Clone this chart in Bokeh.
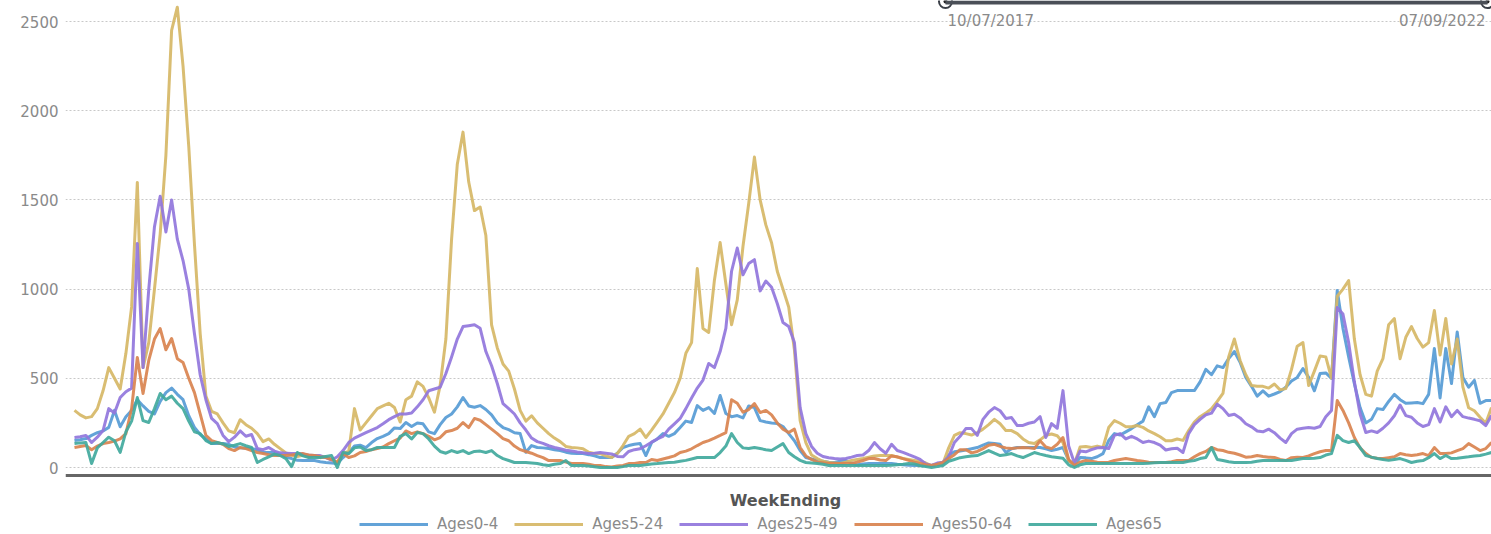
import pandas as pd
from bokeh.plotting import figure
from bokeh.models import Range1d, FixedTicker, Legend, LegendItem, Label, BoxAnnotation, Span
from bokeh.embed import file_html
from bokeh.resources import INLINE

# ---------------- data (weekly) ----------------
first_week = "2017-10-07"
last_week = "2022-07-09"
range_labels = ["10/07/2017", "07/09/2022"]
x_title = "WeekEnding"
series_names = ["Ages0-4", "Ages5-24", "Ages25-49", "Ages50-64", "Ages65"]

ages0_4 = [
    151, 156, 162, 180, 195, 205, 225, 320, 228, 285,
    320, 380, 345, 315, 300, 370, 420, 445, 410, 380,
    290, 225, 185, 160, 134, 134, 134, 130, 115, 110,
    108, 106, 100, 84, 84, 84, 75, 58, 50, 40,
    39, 39, 39, 32, 28, 25, 22, 56, 84, 120,
    125, 112, 140, 162, 175, 190, 222, 218, 252, 230,
    250, 245, 200, 190, 240, 280, 300, 340, 392, 345,
    338, 347, 325, 295, 250, 224, 212, 195, 190, 85,
    123, 112, 110, 106, 100, 95, 86, 80, 78, 78,
    72, 65, 56, 56, 56, 80, 112, 123, 130, 134,
    67, 140, 160, 190, 175, 190, 224, 260, 252, 347,
    320, 336, 303, 404, 303, 285, 291, 278, 345, 336,
    263, 255, 250, 246, 230, 190, 150, 95, 56, 48,
    40, 35, 30, 28, 35, 39, 25, 15, 20, 22,
    22, 22, 22, 22, 18, 15, 12, 11, 11, 11,
    11, 15, 20, 70, 88, 93, 98, 105, 112, 125,
    138, 134, 130, 84, 105, 112, 112, 112, 112, 112,
    105, 95, 102, 112, 40, 15, 56, 54, 50, 60,
    78, 151, 190, 182, 200, 218, 240, 260, 340, 285,
    358, 364, 420, 431, 431, 431, 431, 480, 550, 520,
    570, 560, 610, 650, 590, 505, 455, 400, 430, 400,
    412, 425, 450, 485, 505, 555, 505, 430, 527, 530,
    500, 992, 780, 620, 470, 336, 250, 270, 330, 325,
    370, 410, 380, 360, 362, 364, 358, 410, 667, 390,
    667, 471, 760, 505, 450, 488, 360, 375, 375,
]

ages5_24 = [
    320, 295, 278, 285, 330, 430, 560, 500, 440, 640,
    900, 1598, 560, 700, 1000, 1310, 1750, 2450, 2580, 2250,
    1800, 1250, 750, 400, 315, 300, 250, 205, 195, 268,
    240, 220, 190, 145, 160, 130, 106, 82, 70, 62,
    68, 58, 65, 55, 60, 45, 30, 80, 90, 330,
    210, 250, 290, 330, 345, 360, 336, 255, 380, 400,
    480, 455, 390, 310, 460, 720, 1280, 1700, 1880, 1600,
    1440, 1460, 1300, 800, 670, 580, 540, 440, 320, 260,
    290, 250, 220, 190, 165, 145, 118, 112, 110, 105,
    85, 78, 78, 65, 56, 78, 123, 175, 190, 215,
    168, 210, 255, 300, 360, 420, 500, 640, 700, 1115,
    779, 757, 1050, 1261, 1030, 800, 940, 1240, 1480, 1740,
    1500, 1360, 1260, 1100, 1000, 900, 660, 263, 140, 70,
    50, 35, 28, 25, 22, 30, 40, 45, 50, 58,
    65, 67, 67, 67, 58, 50, 45, 40, 35, 25,
    11, 18, 22, 110, 180, 195, 190, 182, 195, 215,
    240, 270, 245, 207, 207, 190, 160, 140, 134, 155,
    180, 188, 178, 140, 35, 20, 115, 118, 112, 120,
    112, 224, 263, 248, 228, 228, 235, 225, 205, 190,
    172, 150, 150, 160, 152, 207, 255, 285, 305, 330,
    370, 415, 620, 720, 600, 520, 460, 455, 455, 445,
    468, 435, 443, 550, 680, 700, 460, 540, 625, 620,
    500, 960, 1000, 1048, 720, 520, 410, 400, 540, 610,
    800, 835, 610, 730, 790, 723, 675, 700, 880, 630,
    835, 580, 720, 450, 335, 318, 282, 248, 336,
]

ages25_49 = [
    168, 172, 180, 140, 170, 207, 330, 305, 392, 425,
    445, 1255, 560, 1000, 1350, 1520, 1320, 1500, 1280, 1160,
    1000, 750, 520, 380, 275, 246, 180, 145, 170, 205,
    175, 185, 106, 100, 112, 92, 82, 80, 78, 78,
    76, 68, 67, 67, 55, 42, 60, 95, 140, 165,
    180, 195, 210, 224, 245, 268, 285, 300, 300, 305,
    340, 380, 430, 440, 450, 527, 620, 720, 790, 795,
    800, 780, 650, 570, 471, 358, 330, 300, 250, 210,
    165, 145, 135, 122, 112, 105, 97, 92, 87, 83,
    79, 80, 84, 80, 76, 62, 60, 90, 100, 105,
    122, 142, 160, 175, 215, 245, 275, 330, 390, 445,
    490, 583, 560, 650, 780, 1100, 1230, 1080, 1143, 1165,
    990, 1045, 1010, 919, 813, 790, 700, 336, 190, 118,
    80, 62, 55, 50, 48, 50, 58, 67, 70, 95,
    140, 105, 80, 130, 95, 85, 72, 60, 45, 20,
    12, 25, 30, 60, 140, 175, 218, 218, 180, 270,
    310, 336, 318, 275, 280, 235, 236, 248, 255, 285,
    168, 246, 220, 431, 120, 25, 92, 88, 100, 110,
    112, 106, 180, 190, 160, 175, 160, 140, 148, 140,
    125, 98, 105, 108, 84, 190, 240, 270, 295, 305,
    355, 330, 292, 298, 278, 245, 228, 205, 200, 215,
    195, 165, 140, 190, 215, 220, 224, 220, 230, 285,
    320, 897, 860, 700, 480, 300, 196, 205, 196, 220,
    250, 290, 350, 291, 282, 250, 230, 240, 330, 255,
    340, 285, 320, 285, 277, 270, 262, 235, 291,
]

ages50_64 = [
    112, 118, 123, 100, 120, 134, 140, 148, 160, 190,
    330, 617, 415, 600, 720, 779, 660, 723, 610, 589,
    500, 420, 300, 180, 151, 140, 130, 106, 95, 112,
    106, 95, 84, 78, 72, 67, 67, 67, 70, 75,
    78, 70, 67, 60, 56, 45, 28, 78, 56, 65,
    84, 90, 100, 106, 115, 134, 150, 165, 205, 190,
    200, 190, 175, 155, 168, 200, 207, 220, 252, 224,
    275, 265, 240, 215, 190, 162, 150, 120, 100, 90,
    80, 67, 55, 39, 39, 39, 30, 22, 22, 22,
    18, 11, 11, 5, 3, 8, 11, 22, 22, 28,
    28, 45, 39, 48, 56, 65, 84, 92, 105, 123,
    140, 151, 165, 180, 196, 380, 360, 310, 325, 358,
    308, 320, 295, 250, 215, 196, 215, 112, 65, 45,
    30, 26, 22, 22, 22, 22, 22, 30, 39, 50,
    50, 42, 39, 65, 60, 50, 40, 30, 22, 15,
    11, 18, 28, 50, 72, 100, 100, 82, 90, 106,
    125, 130, 118, 110, 106, 110, 112, 110, 106, 150,
    115, 106, 130, 168, 45, 11, 30, 39, 35, 30,
    28, 30, 39, 45, 50, 45, 39, 35, 30, 28,
    28, 28, 32, 39, 39, 39, 60, 78, 90, 112,
    100, 95, 85, 80, 70, 58, 60, 67, 62, 58,
    56, 45, 39, 55, 57, 56, 65, 78, 88, 95,
    95, 375, 320, 250, 168, 110, 78, 56, 52, 50,
    55, 60, 78, 72, 67, 72, 78, 67, 112, 78,
    78, 82, 95, 106, 134, 115, 95, 106, 140,
]

ages65 = [
    134, 138, 140, 22, 110, 140, 170, 150, 85, 200,
    260, 392, 263, 252, 330, 415, 380, 400, 360, 330,
    260, 200, 190, 151, 134, 140, 132, 118, 125, 134,
    122, 112, 28, 45, 60, 75, 67, 50, 5, 84,
    65, 56, 56, 56, 62, 67, 0, 84, 78, 110,
    115, 95, 100, 112, 112, 112, 112, 175, 190, 160,
    196, 190, 160, 120, 90, 80, 95, 84, 95, 78,
    90, 92, 84, 95, 67, 50, 39, 28, 28, 28,
    25, 22, 15, 11, 18, 22, 39, 11, 11, 11,
    8, 4, 0, 0, 0, 0, 5, 11, 11, 11,
    15, 20, 22, 25, 28, 30, 35, 40, 48, 56,
    56, 56, 56, 84, 120, 190, 140, 110, 106, 112,
    106, 100, 95, 115, 134, 84, 60, 40, 28, 25,
    22, 18, 11, 11, 11, 11, 11, 11, 11, 11,
    11, 11, 11, 12, 15, 18, 22, 20, 10, 5,
    0, 5, 11, 35, 45, 55, 60, 65, 67, 80,
    95, 80, 67, 72, 78, 65, 56, 70, 84, 75,
    67, 60, 56, 52, 15, 0, 15, 22, 22, 22,
    22, 22, 22, 22, 22, 22, 22, 22, 24, 26,
    28, 28, 28, 28, 28, 35, 39, 50, 56, 112,
    45, 39, 32, 28, 28, 28, 30, 35, 39, 39,
    39, 39, 39, 39, 45, 50, 50, 52, 56, 70,
    78, 180, 151, 140, 150, 112, 67, 58, 50, 45,
    40, 45, 50, 40, 28, 35, 39, 55, 78, 50,
    67, 50, 52, 56, 60, 65, 67, 75, 84,
]

y_ticks = [0, 500, 1000, 1500, 2000, 2500]

# ---------------- styling / layout ----------------
colors = ["#569bd5", "#d6b766", "#9176dc", "#d9834f", "#41a99d"]
FONT = "DejaVu Sans"

W, H = 1491, 534
LEFT = 65
frame_w, frame_h = W - LEFT, H
px_per_unit = 446 / 2500.0           # 500 units every ~89 px
zero_px_from_top = 467
y_hi = zero_px_from_top / px_per_unit
y_lo = -(H - zero_px_from_top) / px_per_unit
axis_line_y = -8 / px_per_unit        # baseline sits 8 px under the zero line

week_ending = pd.date_range(first_week, last_week, freq="7D")
all_series = [ages0_4, ages5_24, ages25_49, ages50_64, ages65]

x_start = week_ending[0] - pd.Timedelta(days=11)
x_end = week_ending[-1]

p = figure(
    width=W, height=H,
    x_axis_type="datetime", x_axis_location=None,
    x_range=Range1d(x_start, x_end),
    y_range=Range1d(y_lo, y_hi),
    output_backend="svg", toolbar_location=None,
    min_border_left=LEFT, min_border_right=0, min_border_top=0, min_border_bottom=0,
)
p.outline_line_color = None
p.background_fill_color = "white"
p.border_fill_color = "white"

renderers = []
for name, vals, col in zip(series_names, all_series, colors):
    n = min(len(vals), len(week_ending))
    r = p.line(week_ending[:n], vals[:n], line_color=col, line_width=3, line_alpha=0.92,
               line_join="round")
    renderers.append(r)

# y axis
p.yaxis.ticker = FixedTicker(ticks=y_ticks)
p.yaxis.axis_line_color = None
p.yaxis.major_tick_line_color = None
p.yaxis.minor_tick_line_color = None
p.yaxis.major_tick_out = 0
p.yaxis.major_label_standoff = 7
p.yaxis.major_label_text_font = FONT
p.yaxis.major_label_text_font_size = "15px"
p.yaxis.major_label_text_color = "#8a8a8a"

p.ygrid.ticker = FixedTicker(ticks=y_ticks)
p.ygrid.grid_line_color = "#c8c8c8"
p.ygrid.grid_line_dash = "2 2"
p.ygrid.grid_line_width = 1
p.xgrid.visible = False

# x baseline + title
p.add_layout(Span(location=axis_line_y, dimension="width", line_color="#666666", line_width=3))
p.add_layout(Label(x=720, y=H - 500, x_units="screen", y_units="screen", text=x_title,
                   text_align="center", text_baseline="middle", text_font=FONT,
                   text_font_style="bold", text_font_size="16px", text_color="#555555"))

# legend (horizontal, under the title)
legend = Legend(
    items=[LegendItem(label=n, renderers=[r]) for n, r in zip(series_names, renderers)],
    orientation="horizontal", location=(294, 1),
    glyph_width=69, glyph_height=14, label_height=14, label_standoff=9, spacing=16,
    padding=0, margin=0, border_line_color=None, background_fill_alpha=0,
    label_text_font=FONT, label_text_font_size="15px", label_text_color="#8a8a8a",
)
p.add_layout(legend, "center")

# date-range slider decoration at the top right
p.add_layout(BoxAnnotation(left=880, right=1422, bottom=frame_h - 4, top=frame_h,
                           left_units="screen", right_units="screen",
                           bottom_units="screen", top_units="screen",
                           fill_color="#4a4f57", fill_alpha=1, line_color=None))
span = x_end - x_start
hx = [x_start + span * (880 / frame_w), x_start + span * (1422 / frame_w)]
hy = [y_hi - 1 / px_per_unit] * 2
p.scatter(hx, hy, size=13, fill_color="white", line_color="#3a3f47", line_width=2)
p.scatter(hx, hy, size=4, fill_color="#222222", line_color=None)

p.add_layout(Label(x=882, y=H - 20, x_units="screen", y_units="screen", text=range_labels[0],
                   text_align="left", text_baseline="middle", text_font=FONT,
                   text_font_size="15px", text_color="#8a8a8a"))
p.add_layout(Label(x=1420, y=H - 20, x_units="screen", y_units="screen", text=range_labels[1],
                   text_align="right", text_baseline="middle", text_font=FONT,
                   text_font_size="15px", text_color="#8a8a8a"))

open("out.html", "w").write(file_html(p, INLINE))
